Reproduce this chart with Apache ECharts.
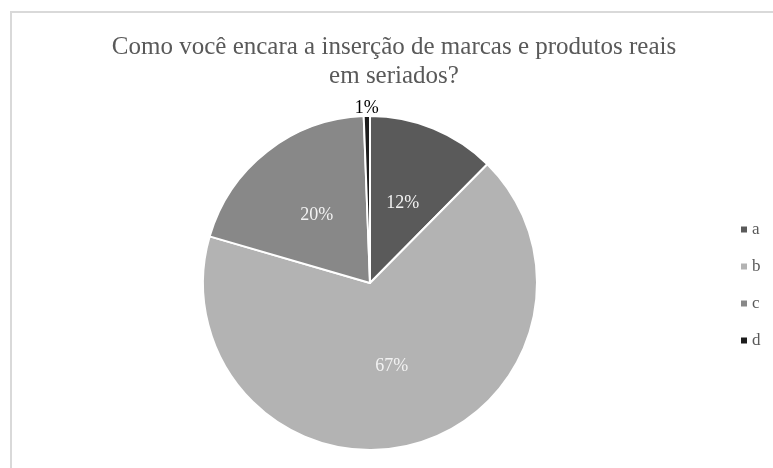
<!DOCTYPE html>
<html>
<head>
<meta charset="utf-8">
<script src="https://cdn.jsdelivr.net/npm/echarts@6/dist/echarts.min.js"></script>
<style>
html,body{margin:0;padding:0;background:#fff;}
#chart{width:773px;height:468px;}
</style>
</head>
<body>
<div id="chart"></div>
<script>
const titleText = "Como você encara a inserção de marcas e produtos reais\nem seriados?";
const categories = ["a", "b", "c", "d"];
const values = [12.4, 67.1, 19.9, 0.6];
const colors = ["#5a5a5a", "#b3b3b3", "#888888", "#1c1c1c"];

const chart = echarts.init(document.getElementById('chart'));
const FONT = '"Liberation Serif", "Times New Roman", serif';

const data = categories.map((c, i) => {
  const item = { name: c, value: values[i], itemStyle: { color: colors[i] } };
  if (i === 3) {
    item.label = { position: 'outside', color: '#000', distanceToLabelLine: 0, offset: [12, 0] };
    item.labelLine = { show: false, length: 8, length2: 0 };
  }
  return item;
});

chart.setOption({
  animation: false,
  backgroundColor: '#fff',
  graphic: [{
    type: 'rect',
    shape: { x: 11, y: 12, width: 800, height: 500 },
    style: { fill: 'none', stroke: '#d9d9d9', lineWidth: 2 },
    silent: true
  }],
  title: {
    text: titleText,
    left: 389,
    textAlign: 'center',
    top: 28,
    textStyle: { fontFamily: FONT, fontWeight: 'normal', fontSize: 25, color: '#595959', lineHeight: 29 }
  },
  legend: {
    orient: 'vertical',
    left: 734,
    top: 216,
    itemWidth: 8,
    itemHeight: 8,
    itemGap: 20,
    icon: 'rect',
    data: categories,
    textStyle: { fontFamily: FONT, fontSize: 17, color: '#595959', padding: [0, 0, 0, -1] }
  },
  series: [{
    type: 'pie',
    center: [370, 283],
    radius: [0, 167],
    startAngle: 90,
    clockwise: true,
    itemStyle: { borderColor: '#fff', borderWidth: 2 },
    label: {
      show: true,
      position: 'inside',
      formatter: p => Math.round(p.percent) + '%',
      fontFamily: FONT,
      fontSize: 18,
      color: '#f2f2f2'
    },
    labelLine: { show: false },
    emphasis: { disabled: true },
    data: data
  }]
});
</script>
</body>
</html>
